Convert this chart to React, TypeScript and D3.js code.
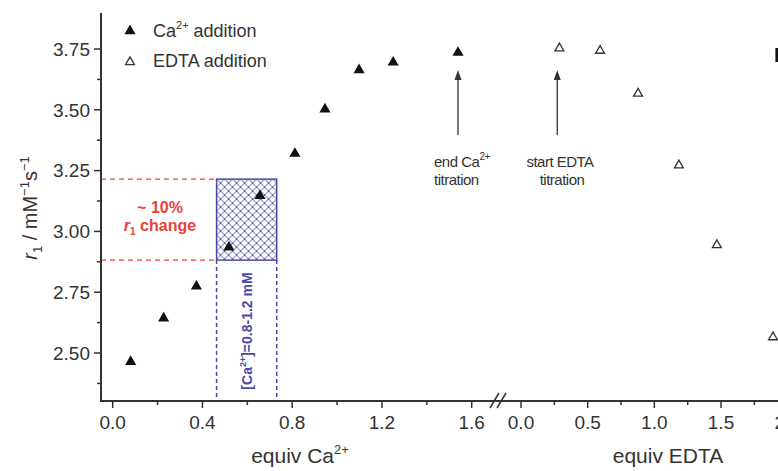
import React from 'react';
import * as d3 from 'd3';

// Data
const caX = [0.08, 0.227, 0.373, 0.518, 0.656, 0.812, 0.946, 1.098, 1.25, 1.539];
const caY = [2.464, 2.643, 2.774, 2.935, 3.146, 3.32, 3.502, 3.664, 3.695, 3.735];
const edtaX = [0.288, 0.593, 0.878, 1.184, 1.469, 1.89];
const edtaY = [3.753, 3.743, 3.567, 3.272, 2.944, 2.565];
const yTicks = [2.5, 2.75, 3.0, 3.25, 3.5, 3.75];
const yMinor = [2.375, 2.625, 2.875, 3.125, 3.375, 3.625];
const caTicks = [0, 0.4, 0.8, 1.2, 1.6];
const caMinor = [0.2, 0.6, 1.0, 1.4];
const edtaTicks = [0, 0.5, 1.0, 1.5, 2.0];
const edtaMinor = [0.25, 0.75, 1.25, 1.75];
const bandY = [2.882, 3.215];
const bandX = [0.463, 0.731];
const startEdtaArrow = 0.272;

const W = 778;
const H = 471;
const AX = '#333';
const BLUE = '#4a4aa6';
const RED = '#e8423a';
const FONT = '"Liberation Sans", Arial, sans-serif';

export default function App() {
  const y = d3.scaleLinear().domain([2.5, 3.75]).range([353, 49]);
  const xCa = d3.scaleLinear().domain([0, 1.6]).range([112.7, 471.7]);
  const xE = d3.scaleLinear().domain([0, 1.5]).range([521, 721]);
  const axisX = 101;
  const axisY = 401;
  const filled = d3.symbol(d3.symbolTriangle, 54)() as string;
  const open = d3.symbol(d3.symbolTriangle, 34)() as string;

  const fmtCa = (v: number) => v.toFixed(1);
  const fmtY = (v: number) => v.toFixed(2);

  const bx0 = xCa(bandX[0]);
  const bx1 = xCa(bandX[1]);
  const by0 = y(bandY[1]);
  const by1 = y(bandY[0]);

  const arrow = (x: number) => (
    <g>
      <line x1={x} x2={x} y1={135} y2={78} stroke={AX} strokeWidth={1.3} />
      <path d={`M${x},70 L${x - 3.5},80 L${x + 3.5},80 Z`} fill={AX} />
    </g>
  );

  return (
    <svg width={W} height={H} style={{ position: 'absolute', left: 0, top: 0, background: '#fff' }} fontFamily={FONT}>
      <defs>
        <pattern id="hatch" width={8} height={8} patternUnits="userSpaceOnUse" x={bx0} y={by0}>
          <rect width={8} height={8} fill="#fff" />
          <path d="M0,0 L8,8 M0,8 L8,0" stroke={BLUE} strokeWidth={0.9} />
        </pattern>
      </defs>

      {/* red dashed band lines */}
      {bandY.map((v, i) => (
        <line key={i} x1={axisX} x2={bx0} y1={y(v)} y2={y(v)} stroke={RED} strokeWidth={1.3} strokeDasharray="5,4" />
      ))}
      {/* hatched box */}
      <rect x={bx0} y={by0} width={bx1 - bx0} height={by1 - by0} fill="url(#hatch)" stroke={BLUE} strokeWidth={1.5} />
      {bandX.map((v, i) => (
        <line key={i} x1={xCa(v)} x2={xCa(v)} y1={by1} y2={axisY} stroke={BLUE} strokeWidth={1.5} strokeDasharray="4,3" />
      ))}
      <text transform={`translate(${(bx0 + bx1) / 2 + 5},331) rotate(-90)`} textAnchor="middle" fill={BLUE} fontWeight="bold" fontSize={14}>
        [Ca<tspan dy={-6} fontSize={9}>2+</tspan><tspan dy={6}>]=0.8-1.2 mM</tspan>
      </text>

      {/* red annotation */}
      <text x={160} y={213} textAnchor="middle" fill={RED} fontWeight="bold" fontSize={16}>~ 10%</text>
      <text x={160} y={231} textAnchor="middle" fill={RED} fontWeight="bold" fontSize={16}>
        <tspan fontStyle="italic">r</tspan><tspan dy={4} fontSize={10}>1</tspan><tspan dy={-4}> change</tspan>
      </text>

      {/* axes */}
      <line x1={axisX} x2={axisX} y1={13} y2={axisY + 1} stroke={AX} strokeWidth={2} />
      <line x1={axisX - 1} x2={W} y1={axisY} y2={axisY} stroke={AX} strokeWidth={2} />
      {yTicks.map(v => (
        <g key={v}>
          <line x1={axisX - 7} x2={axisX} y1={y(v)} y2={y(v)} stroke={AX} strokeWidth={1.5} />
          <text x={axisX - 11} y={y(v)} dy="0.36em" textAnchor="end" fontSize={19} fill={AX}>{fmtY(v)}</text>
        </g>
      ))}
      {yMinor.map(v => (
        <line key={v} x1={axisX - 4} x2={axisX} y1={y(v)} y2={y(v)} stroke={AX} strokeWidth={1.5} />
      ))}
      {caTicks.map(v => (
        <g key={v}>
          <line x1={xCa(v)} x2={xCa(v)} y1={axisY} y2={axisY + 7} stroke={AX} strokeWidth={1.5} />
          <text x={xCa(v)} y={429} textAnchor="middle" fontSize={19} fill={AX}>{fmtCa(v)}</text>
        </g>
      ))}
      {caMinor.map(v => (
        <line key={v} x1={xCa(v)} x2={xCa(v)} y1={axisY} y2={axisY + 4} stroke={AX} strokeWidth={1.5} />
      ))}
      {edtaTicks.map(v => (
        <g key={v}>
          <line x1={xE(v)} x2={xE(v)} y1={axisY} y2={axisY + 7} stroke={AX} strokeWidth={1.5} />
          <text x={xE(v)} y={429} textAnchor="middle" fontSize={19} fill={AX}>{fmtCa(v)}</text>
        </g>
      ))}
      {edtaMinor.map(v => (
        <line key={v} x1={xE(v)} x2={xE(v)} y1={axisY} y2={axisY + 4} stroke={AX} strokeWidth={1.5} />
      ))}
      {/* axis break */}
      <line x1={490} y1={408} x2={499} y2={393} stroke={AX} strokeWidth={1.5} />
      <line x1={497} y1={408} x2={506} y2={393} stroke={AX} strokeWidth={1.5} />

      {/* axis titles */}
      <text x={300} y={463} textAnchor="middle" fontSize={21} fill={AX}>
        equiv Ca<tspan dy={-9} fontSize={13}>2+</tspan>
      </text>
      <text x={668} y={463} textAnchor="middle" fontSize={21} fill={AX}>equiv EDTA</text>
      <text transform="translate(37,208) rotate(-90)" textAnchor="middle" fontSize={20} fill={AX}>
        <tspan fontStyle="italic">r</tspan><tspan dy={5} fontSize={13}>1</tspan><tspan dy={-5}> / mM</tspan>
        <tspan dy={-8} fontSize={13}>−1</tspan><tspan dy={8}>s</tspan><tspan dy={-8} fontSize={13}>−1</tspan>
      </text>

      {/* data */}
      {caX.map((v, i) => (
        <path key={i} d={filled} transform={`translate(${xCa(v)},${y(caY[i])})`} fill="#111" />
      ))}
      {edtaX.map((v, i) => (
        <path key={i} d={open} transform={`translate(${xE(v)},${y(edtaY[i])})`} fill="#fff" stroke={AX} strokeWidth={1.3} />
      ))}

      {/* arrows + labels */}
      {arrow(xCa(caX[caX.length - 1]))}
      {arrow(xE(startEdtaArrow))}
      <text x={434} y={167} fontSize={15} fill={AX} letterSpacing={-0.5}>
        end Ca<tspan dy={-7} fontSize={10}>2+</tspan>
      </text>
      <text x={434} y={185} fontSize={15} fill={AX} letterSpacing={-0.5}>titration</text>
      <text x={560} y={167} textAnchor="middle" fontSize={15} fill={AX} letterSpacing={-0.5}>start EDTA</text>
      <text x={562} y={185} textAnchor="middle" fontSize={15} fill={AX} letterSpacing={-0.5}>titration</text>

      {/* legend */}
      <path d={filled} transform="translate(130,31)" fill="#111" />
      <text x={153} y={37} fontSize={18} fill={AX}>
        Ca<tspan dy={-8} fontSize={11}>2+</tspan><tspan dy={8}> addition</tspan>
      </text>
      <path d={open} transform="translate(130,62)" fill="#fff" stroke={AX} strokeWidth={1.3} />
      <text x={153} y={67} fontSize={18} fill={AX}>EDTA addition</text>

      {/* cropped panel label */}
      <text x={774} y={62} fontSize={20} fontWeight="bold" fill="#111">B</text>
    </svg>
  );
}
